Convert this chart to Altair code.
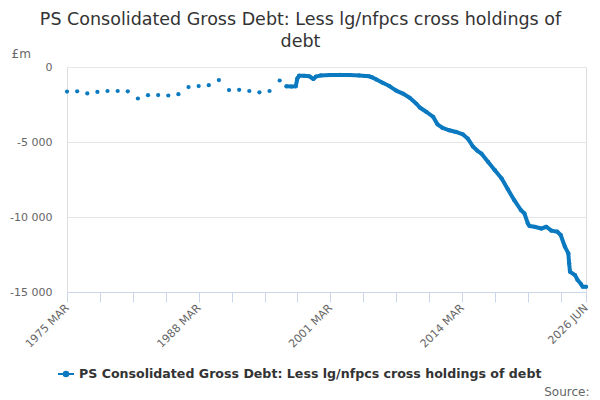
import altair as alt
import pandas as pd

BLUE = "#0a79c0"
FONT = "DejaVu Sans"
SERIES = "PS Consolidated Gross Debt: Less lg/nfpcs cross holdings of debt"

annual_dates = [
    "1975-03-01", "1976-03-01", "1977-03-01", "1978-03-01", "1979-03-01",
    "1980-03-01", "1981-03-01", "1982-03-01", "1983-03-01", "1984-03-01",
    "1985-03-01", "1986-03-01", "1987-03-01", "1988-03-01", "1989-03-01",
    "1990-03-01", "1991-03-01", "1992-03-01", "1993-03-01", "1994-03-01",
    "1995-03-01", "1996-03-01",
]
annual_values = [
    -1640, -1620, -1760, -1660, -1600, -1600, -1620, -2100, -1880, -1870,
    -1900, -1810, -1340, -1270, -1210, -870, -1540, -1520, -1600, -1690,
    -1600, -900,
]

monthly_dates = [
    "1996-11-01", "1997-05-01", "1997-10-01", "1997-12-01", "1998-02-01",
    "1998-08-01", "1999-02-01", "1999-07-01", "1999-10-01", "2000-04-01",
    "2001-02-01", "2002-02-01", "2003-02-01", "2004-01-01", "2004-09-01",
    "2005-01-01", "2005-05-01", "2005-09-01", "2006-05-01", "2007-01-01",
    "2007-09-01", "2008-05-01", "2009-01-01", "2009-09-01", "2010-01-01",
    "2010-09-01", "2011-05-01", "2011-10-01", "2012-04-01", "2012-12-01",
    "2013-08-01", "2014-04-01", "2014-10-01", "2015-04-01", "2015-09-01",
    "2016-02-01", "2016-10-01", "2017-06-01", "2018-02-01", "2018-09-01",
    "2019-05-01", "2020-01-01", "2020-05-01", "2020-09-01", "2020-11-01",
    "2021-05-01", "2022-01-01", "2022-07-01", "2023-01-01", "2023-08-01",
    "2023-12-01", "2024-05-01", "2024-09-01", "2024-10-01", "2024-11-01",
    "2025-05-01", "2025-08-01", "2025-12-01", "2026-02-01", "2026-06-01",
]
monthly_values = [
    -1290, -1300, -1290, -750, -580,
    -590, -620, -800, -640, -560,
    -540, -530, -540, -560, -600,
    -620, -700, -820, -1050, -1270,
    -1570, -1770, -2050, -2450, -2700,
    -3000, -3330, -3820, -4060, -4220,
    -4330, -4490, -4780, -5300, -5570,
    -5770, -6330, -6880, -7440, -8120,
    -8880, -9550, -9760, -10430, -10600,
    -10650, -10770, -10650, -10910, -10980,
    -11200, -11980, -12420, -13090, -13650,
    -13870, -14200, -14470, -14650, -14650,
]

tick_dates = [
    (1975, 3), (1978, 6), (1981, 9), (1984, 12), (1988, 3), (1991, 6),
    (1994, 9), (1997, 12), (2001, 3), (2004, 6), (2007, 9), (2010, 12),
    (2014, 3), (2017, 6), (2020, 9), (2023, 12), (2026, 6),
]
shown_labels = ["1975 MAR", "1988 MAR", "2001 MAR", "2014 MAR", "2026 JUN"]
y_ticks = [0, -5000, -10000, -15000]

df = pd.concat([
    pd.DataFrame({"date": annual_dates, "value": annual_values, "segment": "annual"}),
    pd.DataFrame({"date": monthly_dates, "value": monthly_values, "segment": "monthly"}),
], ignore_index=True)
df["series"] = SERIES

label_list = "[" + ",".join("'" + s + "'" for s in shown_labels) + "]"
x_label_expr = (
    f"indexof({label_list}, upper(utcFormat(datum.value, '%Y %b'))) >= 0 ? "
    "upper(utcFormat(datum.value, '%Y %b')) : ''"
)

x_enc = alt.X(
    "date:T",
    scale=alt.Scale(
        type="utc",
        domain=[alt.DateTime(year=1975, month=3, date=1, utc=True),
                alt.DateTime(year=2026, month=6, date=1, utc=True)],
        nice=False,
    ),
    axis=alt.Axis(
        values=[alt.DateTime(year=y, month=m, date=1, utc=True) for y, m in tick_dates],
        labelExpr=x_label_expr,
        labelAngle=315,
        labelAlign="right",
        labelBaseline="middle",
        labelOverlap=False,
        labelFlush=False,
        labelPadding=4,
        labelFont=FONT,
        labelFontSize=11,
        labelColor="#666666",
        tickSize=10,
        tickColor="#ccd6eb",
        domainColor="#ccd6eb",
        grid=False,
        title="Source:",
        titleFont=FONT,
        titleFontSize=12,
        titleFontWeight="normal",
        titleColor="#666666",
        titleAnchor="end",
        titleAlign="right",
        titleBaseline="middle",
        titleX=522,
        titleY=99,
    ),
)

y_enc = alt.Y(
    "value:Q",
    scale=alt.Scale(domain=[-15000, 0], nice=False, zero=False),
    axis=alt.Axis(
        values=y_ticks,
        labelExpr="(datum.value < 0 ? '-' : '') + replace(format(abs(datum.value), ','), ',', ' ')",
        labelFont=FONT,
        labelFontSize=11,
        labelColor="#666666",
        labelPadding=15,
        ticks=False,
        domain=False,
        gridColor="#e6e6e6",
        title="£m",
        titleFont=FONT,
        titleFontSize=12,
        titleFontWeight="normal",
        titleColor="#666666",
        titleAngle=0,
        titleAlign="left",
        titleBaseline="middle",
        titleX=-56,
        titleY=-14,
    ),
)

legend_symbol = "M-1,0L1,0M-0.28,0A0.28,0.28 0 1,1 0.28,0A0.28,0.28 0 1,1 -0.28,0Z"

points = alt.Chart(df).mark_point(filled=True, size=18, opacity=1).encode(
    x=x_enc,
    y=y_enc,
    color=alt.Color(
        "series:N",
        scale=alt.Scale(range=[BLUE]),
        legend=alt.Legend(
            title=None,
            orient="none",
            legendX=-10,
            legendY=298,
            symbolType=legend_symbol,
            symbolSize=256,
            symbolStrokeWidth=2,
            symbolStrokeColor=BLUE,
            symbolFillColor=BLUE,
            labelFont=FONT,
            labelFontSize=12.6,
            labelFontWeight="bold",
            labelColor="#333333",
            labelLimit=700,
        ),
    ),
)

line = alt.Chart(df).transform_filter(
    alt.datum.segment == "monthly"
).mark_line(color=BLUE, strokeWidth=4, strokeCap="round", strokeJoin="round").encode(
    x=x_enc,
    y=y_enc,
)

chart = alt.layer(line, points).properties(
    width=519,
    height=225,
    autosize=alt.AutoSizeParams(type="none"),
    padding={"left": 59, "top": 59, "right": 6, "bottom": 108},
    title=alt.TitleParams(
        text=["PS Consolidated Gross Debt: Less lg/nfpcs cross holdings of", "debt"],
        font=FONT,
        fontSize=17.5,
        fontWeight="normal",
        color="#333333",
        anchor="middle",
        dx=-26,
        dy=23,
        offset=20,
        lineHeight=22,
    ),
).configure_view(stroke=None).configure(background="white")

chart.save("out.html", embed_options={"renderer": "svg", "actions": False})
